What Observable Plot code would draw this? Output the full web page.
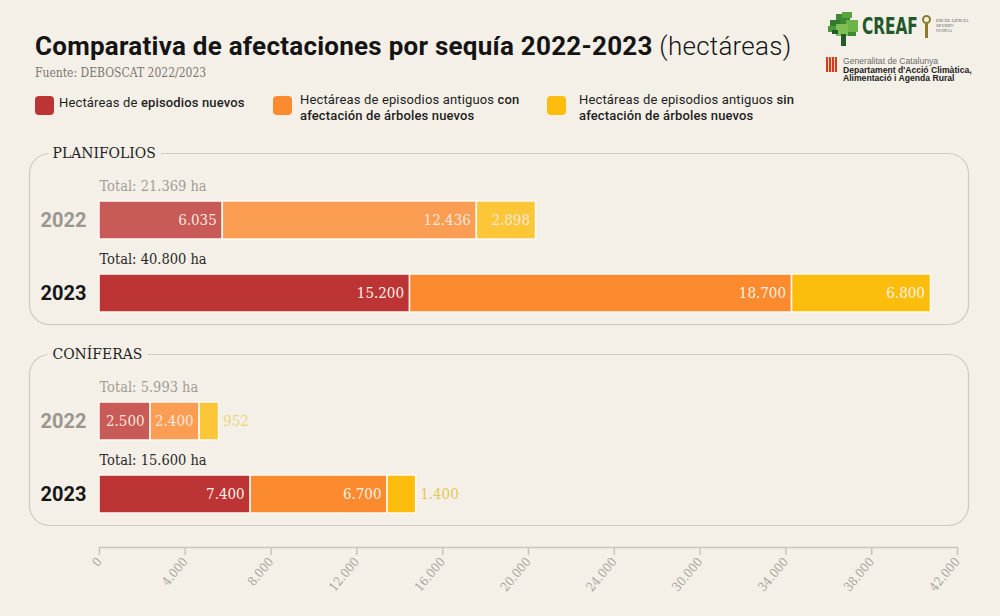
<!DOCTYPE html>
<html>
<head>
<meta charset="utf-8">
<script src="https://cdn.jsdelivr.net/npm/d3@7"></script>
<script src="https://cdn.jsdelivr.net/npm/@observablehq/plot@0.6"></script>
<style>
  html, body { margin: 0; padding: 0; background: #f4f0e7; }
  body { width: 1000px; height: 616px; overflow: hidden; position: relative; font-family: Roboto, "Noto Sans", sans-serif; }
  #header { position: relative; width: 1000px; height: 130px; }
  .abs { position: absolute; white-space: nowrap; }
  #title { left: 35px; top: 31px; font-size: 26px; line-height: 30px; font-weight: 700; color: #141414; letter-spacing: 0.25px; }
  #title span { font-weight: 300; }
  #subtitle { left: 35px; top: 66px; font-size: 12px; line-height: 14px; color: #7a7570; font-family: "DejaVu Serif Condensed", "DejaVu Serif", serif; }
  .sw { position: absolute; width: 19px; height: 19px; border-radius: 4px; }
  .lt { position: absolute; font-size: 13px; line-height: 16px; color: #1e1e1e; letter-spacing: 0.15px; }
  .lt b { font-weight: 500; }
  #plot { position: absolute; left: 0; top: 130px; }
  .px { position: absolute; }
</style>
</head>
<body>
<div id="header">
  <div id="title" class="abs">Comparativa de afectaciones por sequía 2022-2023 <span>(hectáreas)</span></div>
  <div id="subtitle" class="abs">Fuente: DEBOSCAT 2022/2023</div>
  <div id="legend"></div>

  <!-- CREAF logo -->
  <div class="abs" style="left:828px; top:12px; width:32px; height:34px;">
    <div class="px" style="left:8px; top:2px; width:14px; height:10px; background:#3c8a33;"></div>
    <div class="px" style="left:14px; top:0px; width:10px; height:6px; background:#5aa43f;"></div>
    <div class="px" style="left:2px; top:8px; width:10px; height:10px; background:#2f7a2e;"></div>
    <div class="px" style="left:18px; top:8px; width:12px; height:12px; background:#6db34a;"></div>
    <div class="px" style="left:0px; top:14px; width:8px; height:6px; background:#4b9a3a;"></div>
    <div class="px" style="left:8px; top:12px; width:12px; height:12px; background:#7fbd55;"></div>
    <div class="px" style="left:4px; top:18px; width:6px; height:4px; background:#1f5a28;"></div>
    <div class="px" style="left:20px; top:20px; width:8px; height:4px; background:#3c8a33;"></div>
    <div class="px" style="left:13px; top:22px; width:5px; height:12px; background:#235c2a;"></div>
  </div>
  <div class="abs" style="left:862px; top:13px; font-family:'DejaVu Sans Condensed','DejaVu Sans',sans-serif; font-weight:700; font-size:23px; line-height:26px; color:#22592b; transform:scaleX(0.74); transform-origin:left;">CREAF</div>
  <div class="abs" style="left:922px; top:15px; width:9px; height:9px; border-radius:50%; border:2px solid #8a7a2a; box-sizing:border-box;"></div>
  <div class="abs" style="left:925px; top:24px; width:3px; height:14px; background:#8a7a2a;"></div>
  <div class="abs" style="left:936px; top:18px; font-family:'Liberation Serif',serif; font-size:4.5px; line-height:5px; color:#555;">EXCEL·LÈNCIA<br>SEVERO<br>OCHOA</div>

  <!-- Generalitat logo -->
  <div class="abs" style="left:826px; top:57px; width:11px; height:15px; background:repeating-linear-gradient(90deg,#d23a2e 0 2px,#f2d79a 2px 3px);"></div>
  <div class="abs" style="left:843px; top:57px; font-family:'Liberation Sans',Arial,sans-serif; font-size:8.6px; line-height:8.6px; color:#222;">
    <span style="color:#6a6a6a;">Generalitat de Catalunya</span><br><b>Departament d'Acció Climàtica,</b><br><b>Alimentació i Agenda Rural</b>
  </div>
</div>
<div id="plot"></div>

<script>
// ---------- data ----------
const groups = ["PLANIFOLIOS", "CONÍFERAS"];
const years = ["2022", "2023"];
const categories = ["nuevos", "antiguosCon", "antiguosSin"];
const categoryColors = ["#bd3434", "#fc8a2e", "#fdbd0c"];

const planifolios2022 = [6035, 12436, 2898];
const planifolios2023 = [15200, 18700, 6800];
const coniferas2022 = [2500, 2400, 952];
const coniferas2023 = [7400, 6700, 1400];

const planifoliosTotals = [21369, 40800];
const coniferasTotals = [5993, 15600];

const xMax = 42000;
const axisTickLabels = ["0", "4.000", "8.000", "12.000", "16.000", "20.000", "24.000", "30.000", "34.000", "38.000", "42.000"];

const legendItems = [
  {html: "Hectáreas de <b>episodios nuevos</b>"},
  {html: "Hectáreas de episodios antiguos <b>con</b><br><b>afectación de árboles nuevos</b>"},
  {html: "Hectáreas de episodios antiguos <b>sin</b><br><b>afectación de árboles nuevos</b>"}
];

// ---------- derived tables ----------
const seriesTable = [
  [groups[0], years[0], planifolios2022],
  [groups[0], years[1], planifolios2023],
  [groups[1], years[0], coniferas2022],
  [groups[1], years[1], coniferas2023]
];
const segs = [];
seriesTable.forEach(([g, y, vals]) => vals.forEach((v, i) => segs.push({group: g, year: y, cat: categories[i], value: v})));
const totalRows = [
  {group: groups[0], year: years[0], total: planifoliosTotals[0]},
  {group: groups[0], year: years[1], total: planifoliosTotals[1]},
  {group: groups[1], year: years[0], total: coniferasTotals[0]},
  {group: groups[1], year: years[1], total: coniferasTotals[1]}
];

const fmt = d3.formatLocale({decimal: ",", thousands: ".", grouping: [3], currency: ["", " €"]}).format(",d");
const colorOf = c => categoryColors[categories.indexOf(c)];
const tickPositions = axisTickLabels.map((_, i) => i * xMax / (axisTickLabels.length - 1));
const tickLabelMap = new Map(tickPositions.map((p, i) => [p, axisTickLabels[i]]));

// ---------- legend ----------
const legendPos = [{sx: 35, tx: 59, top: 96, ttop: 95}, {sx: 273, tx: 300, top: 96, ttop: 92}, {sx: 547, tx: 579, top: 96, ttop: 92}];
const legend = document.getElementById("legend");
legendItems.forEach((it, i) => {
  const sw = document.createElement("div");
  sw.className = "sw";
  sw.style.left = legendPos[i].sx + "px";
  sw.style.top = legendPos[i].top + "px";
  sw.style.background = categoryColors[i];
  legend.appendChild(sw);
  const t = document.createElement("div");
  t.className = "lt";
  t.style.left = legendPos[i].tx + "px";
  t.style.top = legendPos[i].ttop + "px";
  t.innerHTML = it.html;
  legend.appendChild(t);
});

// ---------- chart ----------
const bg = "#f4f0e7";
const slab = "'Roboto Slab', 'DejaVu Serif Condensed', 'DejaVu Serif', serif";
const sans = "Roboto, 'Noto Sans', sans-serif";

const chart = Plot.plot({
  width: 1000,
  height: 486,
  marginTop: 22,
  marginBottom: 68,
  marginLeft: 99,
  marginRight: 43,
  style: {background: "transparent", fontFamily: slab, overflow: "visible"},
  fy: {domain: groups, axis: null, paddingInner: 0.0396, paddingOuter: 0},
  y: {domain: years, axis: null, paddingInner: 0.483, paddingOuter: 0.561, align: 0.588},
  x: {domain: [0, xMax], axis: null},
  color: {type: "identity"},
  marks: [
    Plot.frame({rx: 20, ry: 20, stroke: "#cfcac0", strokeWidth: 1.2, insetLeft: -70, insetRight: -11, insetBottom: 22}),
    Plot.text(groups, {fy: d => d, text: d => d, frameAnchor: "top-left", dx: -47, textAnchor: "start", lineAnchor: "middle",
      fill: "#222", stroke: bg, strokeWidth: 12, fontSize: 15.5}),
    Plot.barX(segs, Plot.stackX({x: "value", y: "year", fy: "group",
      fill: d => colorOf(d.cat), fillOpacity: d => d.year === "2022" ? 0.8 : 1,
      stroke: "#fffaf2", strokeWidth: 1.5})),
    Plot.text(segs, Plot.stackX2({x: "value", y: "year", fy: "group",
      text: d => d.value >= 2000 ? fmt(d.value) : null,
      textAnchor: "end", dx: -6, fill: d => d.year === "2022" ? "#fbe6dc" : "#fff3ea",
      fontSize: 15, fontWeight: 300})),
    Plot.text(segs, Plot.stackX2({x: "value", y: "year", fy: "group",
      text: d => d.value < 2000 ? fmt(d.value) : null,
      textAnchor: "start", dx: 4, fill: d => d.year === "2022" ? "#ead67e" : "#e6c65a",
      fontSize: 15, fontWeight: 300})),
    Plot.text(totalRows, {fy: "group", y: "year", frameAnchor: "left", textAnchor: "start", dy: -34,
      text: d => `Total: ${fmt(d.total)} ha`, fill: d => d.year === "2022" ? "#a29d96" : "#2a2a2a", fontSize: 14.5}),
    Plot.text(totalRows, {fy: "group", y: "year", frameAnchor: "left", textAnchor: "end", dx: -13,
      text: "year", fill: d => d.year === "2022" ? "#9b968f" : "#161616",
      fontFamily: sans, fontWeight: 700, fontSize: 20}),
    Plot.frame({anchor: "bottom", facetAnchor: "bottom", stroke: "#c9c5bc", strokeWidth: 1.5}),
    Plot.axisX({ticks: tickPositions, tickFormat: d => tickLabelMap.get(d), tickRotate: -50, tickSize: 8, tickPadding: 4,
      stroke: "#c9c5bc", strokeWidth: 1.5, fill: "#a9a49c", fontSize: 12.5, label: null})
  ]
});
document.getElementById("plot").appendChild(chart);
</script>
</body>
</html>
